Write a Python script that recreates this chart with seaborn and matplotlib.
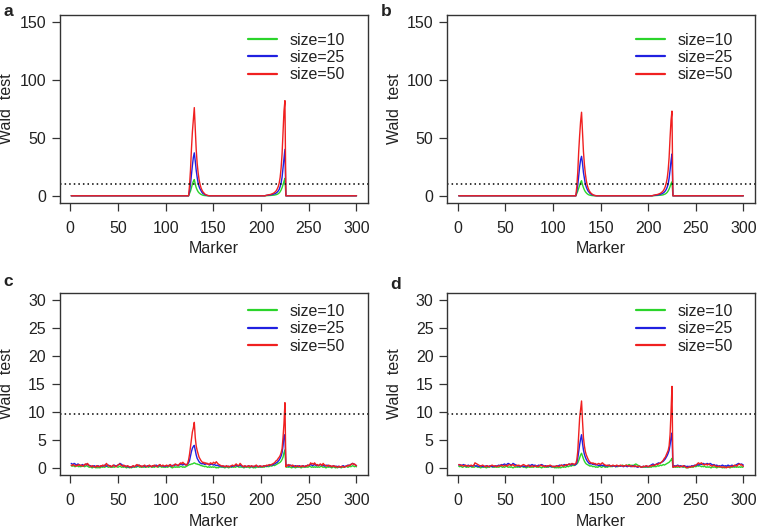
import numpy as np
import pandas as pd
import seaborn as sns
import matplotlib.pyplot as plt

markers = np.arange(1, 301)
sizes = ['size=10', 'size=25', 'size=50']
colors = {'size=10': '#2bd42b', 'size=25': '#2020e0', 'size=50': '#f02020'}
threshold = 9.75

# panels a and b: flat at zero except the two QTL peaks (markers 125-145 and 205-225)
a_green = ([0.0] * 124
           + [2, 4, 7, 10, 12.5, 14, 10, 7, 5, 3.5, 2.5, 1.8, 1.2, 0.8, 0.5, 0.3, 0.2, 0.1, 0.05, 0, 0]
           + [0.0] * 59
           + [0.1, 0.1, 0.15, 0.2, 0.25, 0.3, 0.35, 0.4, 0.5, 0.6, 0.8, 1.0, 1.3, 1.8, 2.5, 3.5, 5, 7, 9.5, 12.5, 15]
           + [0.0] * 75)
a_blue = ([0.0] * 124
          + [4, 10, 18, 26, 33, 37, 30, 22, 16, 11, 8, 6, 4.5, 3, 2, 1.5, 1, 0.6, 0.4, 0.2, 0.1]
          + [0.0] * 59
          + [0.3, 0.4, 0.5, 0.6, 0.7, 0.8, 1.0, 1.2, 1.4, 1.7, 2.0, 2.5, 3.2, 4.2, 5.5, 8, 11, 16, 24, 32, 40]
          + [0.0] * 75)
a_red = ([0.0] * 124
         + [9, 22, 40, 55, 66, 76, 58, 40, 28, 20, 14, 10, 7, 5, 3.5, 2.5, 1.6, 1.0, 0.6, 0.3, 0.1]
         + [0.0] * 59
         + [0.3, 0.5, 0.7, 0.9, 1.0, 1.2, 1.5, 1.8, 2.2, 2.8, 3.5, 4.5, 6, 8, 11, 16, 24, 36, 55, 73, 82]
         + [0.0] * 75)

b_green = ([0.0] * 124
           + [2, 4, 6.5, 9, 11.5, 13, 9.5, 7, 5, 3.5, 2.5, 1.7, 1.1, 0.7, 0.5, 0.3, 0.2, 0.1, 0, 0, 0]
           + [0.0] * 59
           + [0.1, 0.1, 0.15, 0.2, 0.25, 0.3, 0.35, 0.4, 0.5, 0.6, 0.7, 0.9, 1.2, 1.6, 2.2, 3, 4.2, 5.8, 8, 10.5, 12]
           + [0.0] * 75)
b_blue = ([0.0] * 124
          + [4, 9, 17, 25, 31, 34, 28, 20, 15, 10, 7.5, 5.5, 4, 3, 2, 1.4, 0.9, 0.6, 0.4, 0.2, 0.1]
          + [0.0] * 59
          + [0.2, 0.3, 0.4, 0.5, 0.6, 0.7, 0.9, 1.1, 1.3, 1.6, 2.0, 2.5, 3.2, 4.2, 5.5, 7.5, 10, 15, 22, 30, 36]
          + [0.0] * 75)
b_red = ([0.0] * 124
         + [8, 20, 38, 52, 64, 72, 55, 38, 27, 19, 13, 9, 6.5, 4.5, 3.2, 2.2, 1.5, 0.9, 0.5, 0.3, 0.1]
         + [0.0] * 59
         + [0.3, 0.5, 0.7, 0.9, 1.0, 1.2, 1.5, 1.8, 2.2, 2.8, 3.5, 4.5, 6, 8, 11, 15, 22, 33, 50, 65, 73]
         + [0.0] * 75)

# panels c and d: noisy background, 20 markers per row
c_green = [
    0.5, 0.4, 0.5, 0.4, 0.3, 0.4, 0.5, 0.4, 0.3, 0.4, 0.3, 0.4, 0.5, 0.4, 0.3, 0.4, 0.5, 0.4, 0.3, 0.2,
    0.3, 0.2, 0.1, 0.2, 0.3, 0.2, 0.1, 0.2, 0.1, 0.2, 0.1, 0.2, 0.3, 0.2, 0.3, 0.2, 0.3, 0.4, 0.3, 0.2,
    0.3, 0.2, 0.3, 0.2, 0.3, 0.2, 0.3, 0.4, 0.3, 0.2, 0.3, 0.4, 0.3, 0.2, 0.3, 0.2, 0.3, 0.2, 0.1, 0.2,
    0.2, 0.1, 0.2, 0.1, 0.2, 0.3, 0.2, 0.3, 0.2, 0.3, 0.4, 0.3, 0.2, 0.3, 0.2, 0.3, 0.2, 0.3, 0.2, 0.3,
    0.3, 0.2, 0.3, 0.4, 0.3, 0.2, 0.3, 0.2, 0.3, 0.4, 0.3, 0.2, 0.3, 0.4, 0.3, 0.2, 0.3, 0.2, 0.3, 0.2,
    0.3, 0.2, 0.3, 0.4, 0.3, 0.2, 0.1, 0.2, 0.3, 0.2, 0.3, 0.2, 0.3, 0.2, 0.3, 0.4, 0.3, 0.2, 0.3, 0.2,
    0.3, 0.4, 0.5, 0.6, 0.7, 0.7, 0.8, 0.8, 0.9, 1.0, 0.9, 0.8, 0.8, 0.7, 0.7, 0.6, 0.5, 0.5, 0.4, 0.4,
    0.3, 0.4, 0.3, 0.2, 0.3, 0.2, 0.3, 0.2, 0.3, 0.2, 0.3, 0.2, 0.1, 0.2, 0.1, 0.2, 0.3, 0.2, 0.3, 0.2,
    0.2, 0.1, 0.2, 0.3, 0.2, 0.1, 0.2, 0.3, 0.2, 0.3, 0.2, 0.3, 0.2, 0.3, 0.4, 0.3, 0.2, 0.3, 0.2, 0.3,
    0.2, 0.1, 0.2, 0.3, 0.2, 0.3, 0.2, 0.1, 0.2, 0.3, 0.2, 0.1, 0.2, 0.1, 0.2, 0.3, 0.2, 0.3, 0.2, 0.3,
    0.2, 0.3, 0.2, 0.3, 0.4, 0.3, 0.4, 0.3, 0.4, 0.5, 0.4, 0.5, 0.6, 0.5, 0.6, 0.7, 0.8, 0.9, 1.0, 1.1,
    1.3, 1.6, 2.0, 2.8, 3.3, 0.3, 0.2, 0.3, 0.2, 0.3, 0.2, 0.1, 0.2, 0.3, 0.2, 0.1, 0.2, 0.3, 0.2, 0.3,
    0.2, 0.1, 0.2, 0.3, 0.2, 0.3, 0.2, 0.3, 0.2, 0.3, 0.4, 0.3, 0.2, 0.3, 0.2, 0.3, 0.2, 0.3, 0.2, 0.3,
    0.2, 0.3, 0.4, 0.3, 0.2, 0.3, 0.2, 0.1, 0.2, 0.3, 0.2, 0.3, 0.2, 0.1, 0.2, 0.3, 0.2, 0.1, 0.2, 0.1,
    0.2, 0.3, 0.2, 0.1, 0.2, 0.3, 0.2, 0.3, 0.4, 0.3, 0.2, 0.3, 0.4, 0.3, 0.4, 0.5, 0.4, 0.3, 0.4, 0.3]
c_blue = [
    0.9, 0.8, 0.7, 0.9, 0.8, 0.7, 0.6, 0.8, 0.7, 0.6, 0.5, 0.6, 0.7, 0.5, 0.6, 0.7, 0.8, 0.7, 0.6, 0.5,
    0.5, 0.4, 0.3, 0.4, 0.5, 0.4, 0.3, 0.4, 0.5, 0.4, 0.3, 0.4, 0.5, 0.4, 0.5, 0.6, 0.5, 0.4, 0.5, 0.6,
    0.5, 0.4, 0.3, 0.4, 0.5, 0.6, 0.5, 0.4, 0.5, 0.6, 0.7, 0.9, 0.8, 0.7, 0.5, 0.4, 0.5, 0.4, 0.3, 0.4,
    0.3, 0.2, 0.3, 0.2, 0.3, 0.4, 0.3, 0.4, 0.5, 0.4, 0.5, 0.6, 0.5, 0.4, 0.3, 0.4, 0.5, 0.4, 0.3, 0.4,
    0.5, 0.4, 0.5, 0.4, 0.3, 0.4, 0.5, 0.4, 0.5, 0.6, 0.5, 0.4, 0.5, 0.6, 0.5, 0.4, 0.5, 0.4, 0.3, 0.4,
    0.5, 0.4, 0.5, 0.6, 0.5, 0.4, 0.5, 0.6, 0.5, 0.6, 0.7, 0.6, 0.5, 0.6, 0.7, 0.8, 0.7, 0.6, 0.8, 0.7,
    0.6, 0.7, 0.8, 1.0, 1.4, 2.2, 3.0, 3.6, 3.9, 4.1, 3.2, 2.4, 1.8, 1.5, 1.2, 1.0, 0.9, 0.8, 0.9, 0.8,
    0.7, 0.8, 0.9, 0.8, 0.7, 0.6, 0.7, 0.8, 0.7, 0.6, 0.7, 0.6, 0.5, 0.6, 0.5, 0.4, 0.5, 0.4, 0.3, 0.4,
    0.3, 0.4, 0.3, 0.4, 0.3, 0.4, 0.3, 0.4, 0.3, 0.4, 0.5, 0.4, 0.5, 0.6, 0.5, 0.4, 0.5, 0.6, 0.5, 0.4,
    0.3, 0.4, 0.3, 0.4, 0.3, 0.4, 0.5, 0.4, 0.3, 0.4, 0.3, 0.4, 0.3, 0.4, 0.5, 0.4, 0.3, 0.4, 0.3, 0.4,
    0.3, 0.4, 0.5, 0.4, 0.5, 0.4, 0.5, 0.6, 0.5, 0.6, 0.7, 0.6, 0.7, 0.8, 0.9, 1.0, 1.1, 1.3, 1.5, 1.8,
    2.2, 2.8, 4.0, 5.8, 6.0, 0.4, 0.5, 0.6, 0.4, 0.5, 0.6, 0.5, 0.4, 0.3, 0.4, 0.5, 0.4, 0.3, 0.4, 0.5,
    0.4, 0.3, 0.4, 0.5, 0.4, 0.3, 0.4, 0.5, 0.6, 0.5, 0.6, 0.7, 0.6, 0.5, 0.6, 0.7, 0.6, 0.5, 0.6, 0.5,
    0.6, 0.7, 0.6, 0.5, 0.6, 0.5, 0.4, 0.5, 0.6, 0.5, 0.4, 0.5, 0.4, 0.3, 0.4, 0.5, 0.4, 0.3, 0.4, 0.3,
    0.4, 0.3, 0.2, 0.3, 0.4, 0.5, 0.4, 0.3, 0.4, 0.5, 0.6, 0.5, 0.6, 0.7, 0.8, 0.9, 0.8, 0.7, 0.6, 0.5]
c_red = [
    0.6, 0.5, 0.7, 0.6, 0.5, 0.4, 0.6, 0.5, 0.7, 0.6, 0.5, 0.6, 0.4, 0.5, 0.7, 0.8, 0.6, 0.9, 0.7, 0.5,
    0.4, 0.3, 0.5, 0.4, 0.3, 0.2, 0.4, 0.5, 0.3, 0.4, 0.3, 0.5, 0.4, 0.6, 0.5, 0.4, 0.7, 0.9, 0.6, 0.5,
    0.4, 0.5, 0.3, 0.4, 0.6, 0.5, 0.4, 0.3, 0.5, 0.6, 0.7, 0.8, 0.6, 0.5, 0.4, 0.6, 0.5, 0.3, 0.4, 0.5,
    0.4, 0.3, 0.2, 0.3, 0.4, 0.5, 0.3, 0.4, 0.6, 0.7, 0.5, 0.6, 0.4, 0.5, 0.3, 0.4, 0.5, 0.6, 0.4, 0.3,
    0.4, 0.5, 0.6, 0.4, 0.3, 0.5, 0.4, 0.6, 0.5, 0.4, 0.3, 0.5, 0.6, 0.7, 0.5, 0.4, 0.6, 0.5, 0.4, 0.5,
    0.6, 0.5, 0.4, 0.6, 0.7, 0.5, 0.4, 0.5, 0.6, 0.8, 0.7, 0.6, 0.5, 0.7, 0.9, 1.0, 0.8, 1.1, 0.9, 0.8,
    0.7, 0.6, 0.9, 1.5, 2.5, 3.8, 5.0, 6.5, 7.2, 8.2, 5.5, 4.0, 3.2, 2.6, 2.0, 1.7, 1.4, 1.2, 1.0, 1.1,
    0.9, 1.0, 0.8, 0.9, 0.7, 0.8, 1.0, 0.9, 0.8, 1.1, 1.0, 0.9, 1.2, 1.0, 0.8, 0.7, 0.6, 0.5, 0.4, 0.5,
    0.4, 0.3, 0.4, 0.5, 0.3, 0.4, 0.3, 0.4, 0.5, 0.6, 0.5, 0.4, 0.7, 0.8, 0.6, 0.5, 0.6, 0.9, 0.7, 0.5,
    0.4, 0.3, 0.5, 0.4, 0.3, 0.4, 0.5, 0.3, 0.4, 0.5, 0.4, 0.3, 0.4, 0.5, 0.6, 0.4, 0.3, 0.4, 0.5, 0.4,
    0.3, 0.4, 0.5, 0.4, 0.5, 0.6, 0.5, 0.6, 0.7, 0.6, 0.7, 0.8, 0.9, 1.0, 1.2, 1.4, 1.5, 1.8, 2.0, 2.3,
    2.8, 3.5, 5.5, 8.0, 11.7, 0.3, 0.6, 0.5, 0.7, 0.6, 0.5, 0.4, 0.6, 0.5, 0.4, 0.3, 0.4, 0.5, 0.4, 0.3,
    0.4, 0.3, 0.5, 0.4, 0.3, 0.4, 0.5, 0.4, 0.6, 0.5, 0.7, 1.0, 0.8, 0.9, 0.7, 1.0, 0.8, 0.6, 0.7, 0.5,
    0.6, 0.8, 0.7, 0.5, 0.9, 0.7, 0.6, 0.5, 0.4, 0.5, 0.6, 0.4, 0.5, 0.3, 0.4, 0.5, 0.3, 0.4, 0.3, 0.2,
    0.3, 0.4, 0.2, 0.3, 0.4, 0.3, 0.2, 0.3, 0.4, 0.5, 0.4, 0.6, 0.5, 0.7, 0.8, 0.9, 0.7, 0.8, 0.6, 0.5]

d_green = [
    0.4, 0.3, 0.4, 0.3, 0.2, 0.3, 0.4, 0.3, 0.2, 0.3, 0.2, 0.3, 0.4, 0.3, 0.2, 0.3, 0.2, 0.3, 0.4, 0.3,
    0.2, 0.3, 0.2, 0.1, 0.2, 0.3, 0.2, 0.3, 0.2, 0.1, 0.2, 0.3, 0.2, 0.3, 0.4, 0.3, 0.2, 0.3, 0.2, 0.3,
    0.2, 0.3, 0.2, 0.3, 0.4, 0.3, 0.2, 0.3, 0.2, 0.3, 0.4, 0.3, 0.2, 0.3, 0.2, 0.3, 0.2, 0.1, 0.2, 0.3,
    0.2, 0.3, 0.2, 0.3, 0.2, 0.3, 0.4, 0.3, 0.2, 0.3, 0.2, 0.1, 0.2, 0.3, 0.2, 0.3, 0.2, 0.3, 0.2, 0.3,
    0.4, 0.3, 0.2, 0.3, 0.2, 0.3, 0.2, 0.1, 0.2, 0.3, 0.2, 0.3, 0.2, 0.3, 0.2, 0.3, 0.4, 0.3, 0.2, 0.3,
    0.2, 0.1, 0.2, 0.1, 0.2, 0.1, 0.2, 0.1, 0.2, 0.3, 0.2, 0.3, 0.2, 0.3, 0.4, 0.3, 0.4, 0.5, 0.4, 0.5,
    0.6, 0.5, 0.6, 0.7, 0.8, 1.0, 1.4, 1.9, 2.4, 2.7, 2.2, 1.7, 1.3, 1.0, 0.8, 0.7, 0.6, 0.5, 0.4, 0.5,
    0.4, 0.3, 0.4, 0.3, 0.2, 0.3, 0.2, 0.3, 0.4, 0.3, 0.2, 0.3, 0.4, 0.3, 0.2, 0.3, 0.2, 0.3, 0.4, 0.3,
    0.4, 0.3, 0.4, 0.5, 0.4, 0.3, 0.4, 0.3, 0.4, 0.5, 0.4, 0.5, 0.6, 0.5, 0.4, 0.5, 0.6, 0.5, 0.6, 0.7,
    0.6, 0.5, 0.6, 0.5, 0.6, 0.7, 0.8, 0.7, 0.6, 0.5, 0.4, 0.3, 0.2, 0.3, 0.2, 0.3, 0.2, 0.3, 0.2, 0.3,
    0.2, 0.3, 0.2, 0.3, 0.4, 0.3, 0.4, 0.3, 0.4, 0.5, 0.4, 0.5, 0.6, 0.5, 0.6, 0.7, 0.6, 0.7, 0.8, 0.9,
    1.0, 1.1, 1.3, 1.5, 1.8, 0.3, 0.2, 0.3, 0.2, 0.3, 0.2, 0.3, 0.2, 0.3, 0.4, 0.3, 0.2, 0.3, 0.2, 0.1,
    0.2, 0.1, 0.2, 0.3, 0.2, 0.3, 0.2, 0.3, 0.4, 0.3, 0.4, 0.5, 0.4, 0.5, 0.4, 0.3, 0.4, 0.3, 0.4, 0.3,
    0.2, 0.3, 0.2, 0.3, 0.2, 0.1, 0.2, 0.3, 0.2, 0.3, 0.2, 0.1, 0.2, 0.3, 0.2, 0.3, 0.2, 0.1, 0.2, 0.1,
    0.2, 0.3, 0.2, 0.3, 0.2, 0.1, 0.2, 0.3, 0.2, 0.3, 0.2, 0.3, 0.2, 0.3, 0.2, 0.3, 0.2, 0.3, 0.2, 0.3]
d_blue = [
    0.6, 0.7, 0.6, 0.5, 0.6, 0.7, 0.6, 0.5, 0.4, 0.5, 0.6, 0.5, 0.4, 0.5, 0.4, 0.5, 0.6, 0.5, 0.4, 0.5,
    0.4, 0.3, 0.4, 0.5, 0.4, 0.3, 0.4, 0.3, 0.4, 0.5, 0.4, 0.3, 0.4, 0.5, 0.4, 0.3, 0.4, 0.3, 0.4, 0.5,
    0.4, 0.5, 0.6, 0.5, 0.6, 0.7, 0.6, 0.7, 0.8, 0.7, 0.6, 0.8, 0.9, 0.8, 0.7, 0.6, 0.7, 0.9, 0.8, 0.7,
    0.6, 0.5, 0.4, 0.5, 0.4, 0.3, 0.4, 0.5, 0.4, 0.3, 0.4, 0.3, 0.4, 0.5, 0.6, 0.5, 0.6, 0.7, 0.6, 0.5,
    0.6, 0.5, 0.4, 0.5, 0.6, 0.5, 0.6, 0.7, 0.6, 0.5, 0.4, 0.5, 0.4, 0.3, 0.4, 0.5, 0.4, 0.3, 0.4, 0.3,
    0.4, 0.3, 0.4, 0.5, 0.4, 0.5, 0.6, 0.5, 0.6, 0.5, 0.6, 0.7, 0.6, 0.5, 0.6, 0.7, 0.8, 0.7, 0.6, 0.7,
    0.8, 0.7, 0.6, 0.7, 1.0, 1.8, 3.0, 4.2, 5.2, 6.0, 4.5, 3.3, 2.5, 2.0, 1.6, 1.3, 1.1, 0.9, 0.8, 0.9,
    0.8, 0.7, 0.8, 0.7, 0.6, 0.7, 0.6, 0.5, 0.6, 0.5, 0.6, 0.5, 0.6, 0.5, 0.4, 0.5, 0.4, 0.5, 0.6, 0.5,
    0.4, 0.5, 0.4, 0.5, 0.4, 0.3, 0.4, 0.5, 0.4, 0.5, 0.4, 0.5, 0.4, 0.3, 0.4, 0.5, 0.4, 0.3, 0.4, 0.5,
    0.4, 0.3, 0.4, 0.5, 0.4, 0.3, 0.4, 0.3, 0.2, 0.3, 0.4, 0.3, 0.2, 0.3, 0.4, 0.3, 0.4, 0.3, 0.4, 0.3,
    0.4, 0.5, 0.6, 0.7, 0.8, 0.7, 0.6, 0.7, 0.8, 0.9, 1.0, 0.9, 1.0, 1.1, 1.2, 1.3, 1.5, 1.7, 2.0, 2.3,
    2.7, 3.2, 4.2, 5.5, 6.3, 0.3, 0.4, 0.5, 0.4, 0.5, 0.6, 0.5, 0.4, 0.5, 0.4, 0.3, 0.4, 0.5, 0.4, 0.3,
    0.4, 0.3, 0.4, 0.3, 0.4, 0.5, 0.4, 0.5, 0.6, 0.5, 0.6, 0.7, 0.6, 0.7, 0.8, 0.7, 0.8, 0.9, 0.8, 0.7,
    0.8, 0.9, 0.8, 0.7, 0.9, 0.8, 0.7, 0.6, 0.7, 0.6, 0.5, 0.6, 0.5, 0.4, 0.5, 0.4, 0.5, 0.6, 0.5, 0.4,
    0.5, 0.4, 0.5, 0.6, 0.5, 0.4, 0.5, 0.6, 0.5, 0.4, 0.5, 0.6, 0.7, 0.8, 0.9, 0.8, 0.7, 0.8, 0.7, 0.6]
d_red = [
    0.7, 0.6, 0.5, 0.6, 0.5, 0.4, 0.5, 0.6, 0.5, 0.4, 0.5, 0.4, 0.5, 0.6, 0.5, 0.4, 0.6, 1.0, 0.9, 0.8,
    0.7, 0.6, 0.5, 0.4, 0.5, 0.6, 0.5, 0.4, 0.3, 0.4, 0.5, 0.4, 0.3, 0.4, 0.5, 0.6, 0.5, 0.4, 0.5, 0.4,
    0.3, 0.4, 0.5, 0.4, 0.5, 0.6, 0.5, 0.4, 0.5, 0.6, 0.5, 0.4, 0.6, 0.7, 0.6, 0.5, 0.6, 0.7, 0.5, 0.4,
    0.5, 0.6, 0.5, 0.6, 0.5, 0.4, 0.5, 0.6, 0.7, 0.6, 0.5, 0.4, 0.5, 0.6, 0.4, 0.3, 0.4, 0.5, 0.4, 0.3,
    0.4, 0.5, 0.4, 0.3, 0.4, 0.5, 0.6, 0.5, 0.4, 0.5, 0.4, 0.3, 0.4, 0.5, 0.4, 0.5, 0.6, 0.5, 0.4, 0.3,
    0.4, 0.3, 0.4, 0.5, 0.4, 0.3, 0.4, 0.5, 0.6, 0.5, 0.4, 0.5, 0.6, 0.7, 0.6, 0.7, 0.8, 0.7, 0.8, 0.9,
    0.8, 0.7, 0.8, 0.9, 1.5, 3.0, 6.0, 9.0, 10.5, 12.0, 8.5, 5.5, 4.0, 3.0, 2.4, 2.0, 1.6, 1.3, 1.1, 1.0,
    0.9, 1.0, 0.8, 0.9, 0.8, 0.7, 0.8, 0.9, 0.8, 0.7, 0.9, 1.0, 0.8, 0.7, 0.6, 0.5, 0.6, 0.5, 0.6, 0.5,
    0.4, 0.5, 0.6, 0.5, 0.4, 0.5, 0.6, 0.5, 0.4, 0.5, 0.6, 0.5, 0.4, 0.5, 0.4, 0.5, 0.6, 0.5, 0.4, 0.5,
    0.4, 0.5, 0.4, 0.3, 0.4, 0.5, 0.4, 0.3, 0.4, 0.3, 0.4, 0.3, 0.2, 0.3, 0.4, 0.3, 0.4, 0.5, 0.4, 0.3,
    0.4, 0.5, 0.4, 0.5, 0.6, 0.5, 0.6, 0.7, 0.8, 0.7, 0.8, 0.9, 1.0, 1.1, 1.3, 1.5, 1.8, 2.0, 2.4, 2.8,
    3.2, 4.0, 6.0, 10.0, 14.6, 0.2, 0.3, 0.4, 0.3, 0.4, 0.5, 0.4, 0.3, 0.4, 0.3, 0.4, 0.5, 0.4, 0.3, 0.2,
    0.1, 0.2, 0.3, 0.2, 0.3, 0.4, 0.3, 0.4, 0.5, 0.6, 0.7, 0.9, 1.0, 0.8, 0.9, 1.0, 0.8, 0.7, 0.6, 0.7,
    0.8, 0.6, 0.7, 0.8, 0.6, 0.5, 0.4, 0.5, 0.6, 0.5, 0.4, 0.3, 0.4, 0.3, 0.4, 0.3, 0.2, 0.3, 0.2, 0.3,
    0.2, 0.1, 0.2, 0.3, 0.2, 0.3, 0.4, 0.3, 0.4, 0.5, 0.6, 0.5, 0.4, 0.6, 0.7, 0.8, 0.6, 0.7, 0.5, 0.4]

panels = {
    'a': ([a_green, a_blue, a_red], 150, [0, 50, 100, 150]),
    'b': ([b_green, b_blue, b_red], 150, [0, 50, 100, 150]),
    'c': ([c_green, c_blue, c_red], 30, [0, 5, 10, 15, 20, 25, 30]),
    'd': ([d_green, d_blue, d_red], 30, [0, 5, 10, 15, 20, 25, 30]),
}
# axes rectangles in figure fraction
rects = {
    'a': [0.079, 0.616, 0.407, 0.356],
    'b': [0.591, 0.616, 0.406, 0.356],
    'c': [0.079, 0.100, 0.407, 0.345],
    'd': [0.591, 0.100, 0.406, 0.345],
}
legend_anchor = {'a': (0.925, 0.905), 'b': (0.93, 0.905), 'c': (0.925, 0.94), 'd': (0.93, 0.94)}
letters = {'a': (0.004, 0.992), 'b': (0.503, 0.992), 'c': (0.004, 0.482), 'd': (0.515, 0.475)}

sns.set_theme(style='ticks')
plt.rcParams['font.family'] = ['Liberation Sans', 'DejaVu Sans']
plt.rcParams['text.color'] = '#222222'
plt.rcParams['axes.labelcolor'] = '#222222'

fig = plt.figure(figsize=(7.57, 5.28), dpi=100)

for key, (series, ymax, yticks) in panels.items():
    for s in series:
        assert len(s) == 300
    ax = fig.add_axes(rects[key])
    df = pd.DataFrame({
        'Marker': np.tile(markers, 3),
        'Wald': np.concatenate(series),
        'size': np.repeat(sizes, 300),
    })
    sns.lineplot(data=df, x='Marker', y='Wald', hue='size', hue_order=sizes,
                 palette=colors, linewidth=1.0, ax=ax, sort=False, errorbar=None)
    ax.axhline(threshold, color='black', linestyle=(0, (1, 2)), linewidth=1.1)

    pad_x = 299 * 0.04
    ax.set_xlim(1 - pad_x, 300 + pad_x)
    ax.set_ylim(-ymax * 0.04, ymax * 1.04)
    ax.set_xticks([0, 50, 100, 150, 200, 250, 300])
    ax.set_yticks(yticks)
    ax.set_xlabel('Marker', fontsize=11.5, labelpad=4)
    ax.set_ylabel('Wald  test', fontsize=11.5)
    ax.yaxis.set_label_coords(-0.148, 0.5)
    ax.tick_params(labelsize=11.5, length=6, width=0.9,
                   color='#333333', labelcolor='#222222')
    ax.tick_params(axis='x', pad=7)
    ax.tick_params(axis='y', pad=4)
    for sp in ax.spines.values():
        sp.set_visible(True)
        sp.set_color('#333333')
        sp.set_linewidth(1.0)

    leg = ax.legend(loc='upper right', frameon=False, fontsize=11.5,
                    handlelength=1.8, handletextpad=0.8, labelspacing=0.15,
                    borderpad=0, borderaxespad=0, bbox_to_anchor=legend_anchor[key])
    for line in leg.get_lines():
        line.set_linewidth(1.6)

    fig.text(letters[key][0], letters[key][1], key, fontsize=12.5, fontweight='bold',
             ha='left', va='top')

fig.savefig('out.png', dpi=100)
